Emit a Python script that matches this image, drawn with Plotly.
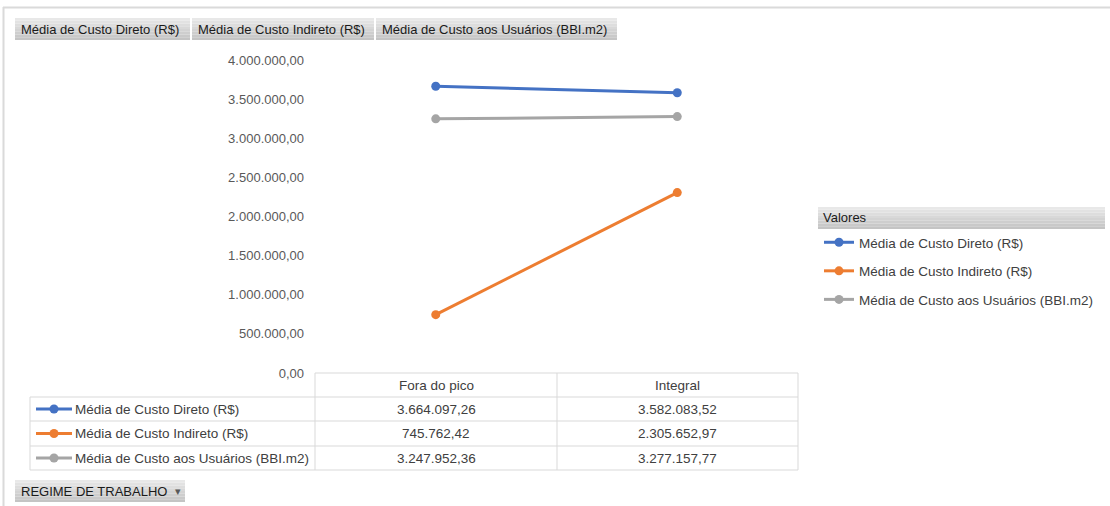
import plotly.graph_objects as go

# Pivot chart data: average costs per work regime
categories = ["Fora do pico", "Integral"]
series_names = [
    "Média de Custo Direto (R$)",
    "Média de Custo Indireto (R$)",
    "Média de Custo aos Usuários (BBI.m2)",
]
custo_direto = [3664097.26, 3582083.52]
custo_indireto = [745762.42, 2305652.97]
custo_usuarios = [3247952.36, 3277157.77]
series_values = [custo_direto, custo_indireto, custo_usuarios]
series_colors = ["#4472C4", "#ED7D31", "#A5A5A5"]
y_ticks = [0, 500000, 1000000, 1500000, 2000000, 2500000, 3000000, 3500000, 4000000]
filter_label = "REGIME DE TRABALHO"
legend_title = "Valores"

W, H = 1110, 506
FONT = "Liberation Sans, Arial, sans-serif"


def px(x):
    return x / W


def py(y):
    return 1 - y / H


def br(v):
    s = f"{v:,.2f}"
    return s.replace(",", "#").replace(".", ",").replace("#", ".")


fig = go.Figure()
for name, vals, col in zip(series_names, series_values, series_colors):
    fig.add_trace(go.Scatter(
        x=categories, y=vals, name=name, mode="lines+markers",
        line=dict(color=col, width=3), marker=dict(color=col, size=9),
        legendgroup=name, hoverinfo="skip",
    ))

shapes = []
annotations = []

# outer frame
shapes.append(dict(type="line", xref="paper", yref="paper", x0=px(3), x1=px(W),
                   y0=py(7.5), y1=py(7.5), line=dict(color="#dadada", width=2)))
shapes.append(dict(type="line", xref="paper", yref="paper", x0=px(3.5), x1=px(3.5),
                   y0=py(7), y1=py(H), line=dict(color="#dadada", width=2)))


def button(x0, x1, y0, y1, text, tx, size=13):
    steps = 8
    c_top, c_bot = 232, 196
    for i in range(steps):
        c = int(c_top + (c_bot - c_top) * i / (steps - 1))
        ya = y0 + (y1 - y0) * i / steps
        yb = y0 + (y1 - y0) * (i + 1) / steps
        shapes.append(dict(type="rect", xref="paper", yref="paper",
                           x0=px(x0), x1=px(x1), y0=py(ya), y1=py(yb),
                           fillcolor=f"rgb({c},{c},{c})", line=dict(width=0), layer="below"))
    annotations.append(dict(xref="paper", yref="paper", x=px(tx), y=py((y0 + y1) / 2),
                            text=text, showarrow=False, xanchor="left", yanchor="middle",
                            font=dict(family=FONT, size=size, color="#1a1a1a")))


# field buttons across the top
button(15, 190, 18, 40, series_names[0], 19)
button(192, 374, 18, 40, series_names[1], 196)
button(376, 617, 18, 40, series_names[2], 380)
# legend header and filter button
button(818, 1105, 207, 229, legend_title, 821)
button(15, 185, 480, 502, filter_label, 19)
annotations.append(dict(xref="paper", yref="paper", x=px(173), y=py(491), text="▾",
                        showarrow=False, yanchor="middle",
                        font=dict(family="DejaVu Sans, sans-serif", size=11, color="#595959")))

# data table under the plot area
TL = "#d9d9d9"
x_left, x_col, x_mid, x_right = 30, 315, 557, 798
y_hdr, y_rows = 373, [397, 421, 446, 470]


def hline(x0, x1, y):
    shapes.append(dict(type="line", xref="paper", yref="paper", x0=px(x0), x1=px(x1),
                       y0=py(y), y1=py(y), line=dict(color=TL, width=1)))


def vline(x, y0, y1):
    shapes.append(dict(type="line", xref="paper", yref="paper", x0=px(x), x1=px(x),
                       y0=py(y0), y1=py(y1), line=dict(color=TL, width=1)))


hline(x_col, x_right, y_hdr)
for y in y_rows:
    hline(x_left, x_right, y)
vline(x_left, y_rows[0], y_rows[-1])
for x in (x_col, x_mid, x_right):
    vline(x, y_hdr, y_rows[-1])

TFONT = dict(family=FONT, size=13.5, color="#404040")
col_centers = [(x_col + x_mid) / 2, (x_mid + x_right) / 2]
for cx, cat in zip(col_centers, categories):
    annotations.append(dict(xref="paper", yref="paper", x=px(cx), y=py((y_hdr + y_rows[0]) / 2),
                            text=cat, showarrow=False, yanchor="middle", font=TFONT))

for i, (name, vals, col) in enumerate(zip(series_names, series_values, series_colors)):
    yc = (y_rows[i] + y_rows[i + 1]) / 2
    shapes.append(dict(type="line", xref="paper", yref="paper", x0=px(36), x1=px(72),
                       y0=py(yc), y1=py(yc), line=dict(color=col, width=3)))
    shapes.append(dict(type="circle", xref="paper", yref="paper", x0=px(49.5), x1=px(58.5),
                       y0=py(yc - 4.5), y1=py(yc + 4.5), fillcolor=col, line=dict(width=0)))
    annotations.append(dict(xref="paper", yref="paper", x=px(73), y=py(yc), text=name,
                            showarrow=False, xanchor="left", yanchor="middle", font=TFONT))
    for cx, v in zip(col_centers, vals):
        annotations.append(dict(xref="paper", yref="paper", x=px(cx), y=py(yc), text=br(v),
                                showarrow=False, yanchor="middle", font=TFONT))

fig.update_layout(
    template="none",
    width=W, height=H, autosize=False,
    margin=dict(l=0, r=0, t=0, b=0, pad=0, autoexpand=False),
    paper_bgcolor="white", plot_bgcolor="white",
    font=dict(family=FONT),
    separators=",.",
    showlegend=True,
    legend=dict(x=px(819), y=py(227), xanchor="left", yanchor="top",
                font=dict(family=FONT, size=13.5, color="#404040"),
                itemwidth=30, tracegroupgap=8, traceorder="grouped",
                bgcolor="rgba(0,0,0,0)", borderwidth=0),
    xaxis=dict(domain=[px(x_col), px(x_right)], range=[-0.5, 1.5], type="category",
               showticklabels=False, showgrid=False, zeroline=False, showline=False,
               ticks="", automargin=False),
    yaxis=dict(domain=[py(373), py(60)], range=[0, 4000000], tickvals=y_ticks,
               tickformat=",.2f", showgrid=False, zeroline=False, showline=False,
               ticks="", ticklabelstandoff=10, automargin=False,
               tickfont=dict(family=FONT, size=13, color="#595959")),
    shapes=shapes,
    annotations=annotations,
)

fig.write_html("out.html")
